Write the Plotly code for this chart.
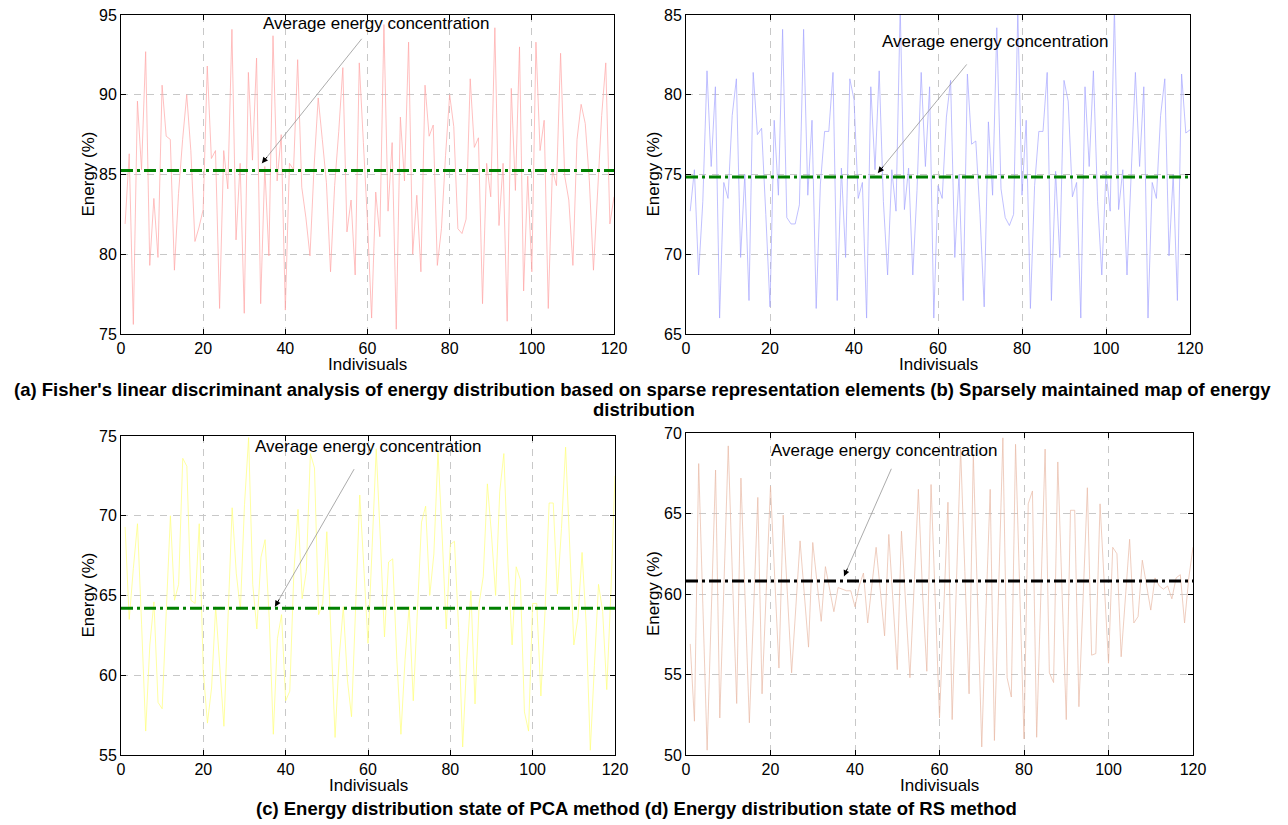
import plotly.graph_objects as go

# the page body has an 8px margin, so the figure is drawn 8px smaller and
# every reference pixel position is shifted by OFF
OFF = 8
W, H = 1288 - OFF, 825 - OFF
FONT = "Liberation Sans, Arial, sans-serif"

individuals = list(range(1, 121))
x_ticks = [0, 20, 40, 60, 80, 100, 120]

energy_a = [81.9, 86.3, 75.6, 89.6, 85.3, 92.7, 79.3, 83.5, 79.8, 90.6,
            87.4, 87.2, 79.0, 83.8, 87.2, 90.0, 86.5, 80.8, 81.7, 82.8,
            91.8, 86.0, 86.5, 76.6, 86.5, 84.1, 94.1, 80.9, 85.7, 76.3,
            91.4, 85.9, 92.3, 76.9, 85.5, 79.9, 93.7, 84.6, 87.5, 76.5,
            85.7, 85.3, 92.2, 84.2, 82.3, 79.9, 85.5, 89.8, 87.2, 84.5,
            78.9, 84.3, 87.7, 91.7, 81.4, 83.4, 78.7, 92.0, 87.0, 82.0,
            76.0, 83.9, 81.1, 94.4, 82.7, 87.0, 75.3, 88.6, 84.6, 93.3,
            80.0, 83.7, 78.9, 90.6, 87.4, 88.1, 79.3, 81.6, 86.2, 90.0,
            88.0, 81.6, 81.3, 82.2, 91.0, 86.7, 87.3, 76.9, 85.7, 83.6,
            94.2, 81.8, 85.7, 75.8, 90.4, 84.0, 93.0, 77.7, 84.9, 78.9,
            93.3, 86.5, 88.4, 76.6, 85.3, 84.3, 92.6, 84.9, 83.4, 79.3,
            87.2, 89.4, 88.2, 84.6, 79.0, 84.0, 88.7, 92.0, 81.9, 83.6]

energy_b = [72.7, 75.3, 68.7, 73.3, 81.5, 75.5, 80.5, 66.0, 74.5, 73.5,
            78.7, 81.0, 69.8, 75.0, 67.1, 81.4, 77.5, 77.9, 72.5, 66.7,
            78.4, 73.7, 84.1, 72.3, 71.9, 71.9, 73.1, 84.1, 73.7, 78.4,
            66.6, 74.4, 77.7, 77.7, 81.4, 67.1, 75.4, 69.8, 81.0, 79.7,
            73.5, 74.5, 66.0, 80.5, 75.3, 81.5, 73.3, 68.7, 75.3, 72.7,
            85.5, 72.8, 75.4, 68.7, 74.0, 81.4, 75.5, 80.5, 66.0, 74.3,
            73.5, 78.6, 80.9, 69.8, 75.0, 67.1, 81.3, 76.9, 77.1, 72.5,
            66.7, 78.3, 73.7, 84.2, 74.1, 72.3, 71.8, 72.5, 85.2, 73.7,
            78.4, 66.6, 74.3, 77.7, 77.7, 81.4, 67.1, 75.2, 69.8, 80.9,
            79.6, 73.6, 74.5, 66.0, 80.5, 75.5, 81.5, 73.3, 68.7, 75.2,
            72.7, 85.5, 72.8, 75.3, 68.7, 75.4, 81.4, 75.5, 80.5, 66.0,
            74.5, 73.5, 78.7, 81.0, 69.9, 75.0, 67.1, 81.3, 77.6, 77.8]

energy_c = [69.3, 63.5, 66.7, 69.5, 63.2, 56.5, 61.9, 64.6, 58.3, 57.9,
            64.0, 70.0, 64.7, 65.7, 73.6, 73.1, 64.7, 64.5, 69.5, 60.2,
            57.0, 59.2, 64.3, 60.6, 56.8, 63.6, 70.5, 66.4, 64.1, 70.7,
            74.9, 65.7, 62.9, 67.4, 68.5, 63.6, 56.3, 62.3, 63.8, 58.4,
            59.0, 66.5, 70.4, 64.8, 66.5, 73.9, 73.0, 63.8, 64.5, 69.0,
            62.1, 56.1, 61.1, 64.3, 59.7, 57.4, 64.3, 71.3, 66.7, 62.0,
            68.0, 74.2, 68.5, 62.4, 67.1, 67.3, 61.0, 56.3, 61.0, 64.3,
            58.4, 64.0, 69.6, 70.6, 65.0, 67.6, 74.0, 68.8, 62.9, 68.2,
            68.4, 63.0, 55.5, 61.0, 65.3, 58.2, 64.5, 66.2, 72.0, 68.8,
            65.0, 71.5, 73.9, 67.0, 61.9, 66.8, 66.0, 57.7, 56.5, 64.5,
            64.5, 58.7, 64.0, 70.8, 70.8, 65.1, 69.2, 74.3, 67.7, 61.9,
            63.6, 67.7, 63.2, 55.3, 60.6, 65.7, 64.0, 59.1, 65.2, 72.5]

energy_d = [56.9, 52.1, 68.1, 59.0, 50.3, 59.0, 67.7, 52.3, 60.5, 69.2,
            61.0, 53.2, 67.2, 59.5, 52.0, 59.0, 66.0, 53.8, 60.0, 66.7,
            61.0, 55.4, 64.9, 60.0, 55.1, 59.2, 63.3, 60.0, 56.7, 63.2,
            60.8, 58.3, 61.7, 60.3, 58.9, 60.4, 60.3, 60.2, 60.2, 59.2,
            60.5, 61.3, 58.2, 60.6, 62.9, 60.2, 57.4, 63.7, 59.5, 55.3,
            63.9, 59.3, 54.8, 60.5, 66.5, 60.0, 55.2, 66.8, 59.5, 52.3,
            59.0, 65.7, 52.2, 60.6, 69.0, 61.4, 53.8, 68.7, 59.6, 50.5,
            59.0, 66.5, 50.9, 60.3, 69.7, 54.8, 53.6, 69.3, 60.1, 51.0,
            65.6, 66.4, 51.1, 60.0, 69.0, 55.1, 54.5, 68.2, 60.2, 52.2,
            65.2, 65.2, 53.0, 59.8, 66.6, 56.2, 56.3, 65.6, 60.6, 55.7,
            62.9, 62.5, 56.1, 60.0, 63.4, 58.2, 58.6, 62.1, 60.6, 59.0,
            61.0, 60.5, 60.3, 60.5, 59.7, 61.0, 61.2, 58.2, 61.0, 62.9]

averages = [85.25, 74.85, 64.2, 60.8]
y_ranges = [[75, 95], [65, 85], [55, 75], [50, 70]]
line_colors = ["rgb(255,165,165)", "rgb(165,165,255)", "rgb(255,255,120)", "rgb(232,185,165)"]
avg_colors = ["#008000", "#008000", "#008000", "#000000"]
arrow_tip_x = [34.3, 45.7, 37.4, 37.4]
arrow_tip_y = [85.7, 75.1, 64.3, 61.1]

series = [energy_a, energy_b, energy_c, energy_d]

# reference page geometry in pixels: (left, right, top, bottom)
boxes = [(121, 614, 15, 334), (686, 1190, 15, 334),
         (121, 615, 436, 755), (686, 1193, 433, 755)]
arrow_off = [(101, -126), (90, -110), (80, -139), (48, -109)]
label_pos = [(376, 24), (995, 41), (368, 447), (884, 450)]


def px(xp):
    return (xp - OFF) / W


def py(yp):
    return 1 - (yp - OFF) / H


fig = go.Figure()
annotations = []
for i in range(4):
    sfx = "" if i == 0 else str(i + 1)
    xa, ya = "x" + sfx, "y" + sfx
    fig.add_trace(go.Scatter(x=individuals, y=series[i], mode="lines",
                             line=dict(color=line_colors[i], width=0.7),
                             xaxis=xa, yaxis=ya, showlegend=False, hoverinfo="skip"))
    fig.add_trace(go.Scatter(x=[0, 120], y=[averages[i], averages[i]], mode="lines",
                             line=dict(color=avg_colors[i], width=3, dash="12px,4px,3px,4px"),
                             xaxis=xa, yaxis=ya, showlegend=False, hoverinfo="skip"))
    l, r, t, b = boxes[i]
    common = dict(showline=True, linecolor="black", linewidth=1, mirror="allticks",
                  ticks="inside", ticklen=5, tickcolor="black", tickwidth=1,
                  showgrid=True, gridcolor="rgb(200,200,200)", gridwidth=1, griddash="7px,6px",
                  zeroline=False, automargin=False, ticklabeloverflow="allow",
                  tickfont=dict(family=FONT, size=16, color="black"))
    fig.update_layout(**{
        ("xaxis" + sfx): dict(domain=[px(l), px(r)], range=[0, 120], tickvals=x_ticks,
                              anchor=ya, **common),
        ("yaxis" + sfx): dict(domain=[py(b), py(t)], range=y_ranges[i], dtick=5,
                              anchor=xa, **common),
    })
    dx, dy = arrow_off[i]
    annotations.append(dict(x=arrow_tip_x[i], y=arrow_tip_y[i], xref=xa, yref=ya,
                            ax=dx, ay=dy, text="", showarrow=True, arrowhead=0,
                            arrowcolor="rgb(150,150,150)", arrowwidth=0.8, standoff=0))
    n = (dx * dx + dy * dy) ** 0.5
    annotations.append(dict(x=arrow_tip_x[i], y=arrow_tip_y[i], xref=xa, yref=ya,
                            ax=dx / n * 10, ay=dy / n * 10, text="", showarrow=True,
                            arrowhead=2, arrowsize=1.2, arrowcolor="black", arrowwidth=1,
                            standoff=0))
    lx, ly = label_pos[i]
    annotations.append(dict(x=px(lx), y=py(ly), xref="paper", yref="paper",
                            text="Average energy concentration", showarrow=False,
                            font=dict(family=FONT, size=17, color="black"),
                            xanchor="center", yanchor="middle"))
    annotations.append(dict(x=px((l + r) / 2), y=py(b + 30), xref="paper", yref="paper",
                            text="Indivisuals", showarrow=False,
                            font=dict(family=FONT, size=17, color="black"),
                            xanchor="center", yanchor="middle"))
    annotations.append(dict(x=px(l - 33), y=py((t + b) / 2), xref="paper", yref="paper",
                            text="Energy (%)", showarrow=False, textangle=-90,
                            font=dict(family=FONT, size=17, color="black"),
                            xanchor="center", yanchor="middle"))

captions = [
    ("<b>(a) Fisher's linear discriminant analysis of energy distribution based on sparse representation elements (b) Sparsely maintained map of energy</b>", 642, 389),
    ("<b>distribution</b>", 644, 409),
    ("<b>(c) Energy distribution state of PCA method (d) Energy distribution state of RS method</b>", 636, 808),
]
for txt, cx, cy in captions:
    annotations.append(dict(x=px(cx), y=py(cy), xref="paper", yref="paper", text=txt,
                            showarrow=False, font=dict(family=FONT, size=18.5, color="black"),
                            xanchor="center", yanchor="middle"))

fig.update_layout(width=W, height=H, margin=dict(l=0, r=0, t=0, b=0),
                  plot_bgcolor="white", paper_bgcolor="white",
                  annotations=annotations, font=dict(family=FONT))

fig.write_html("out.html")
